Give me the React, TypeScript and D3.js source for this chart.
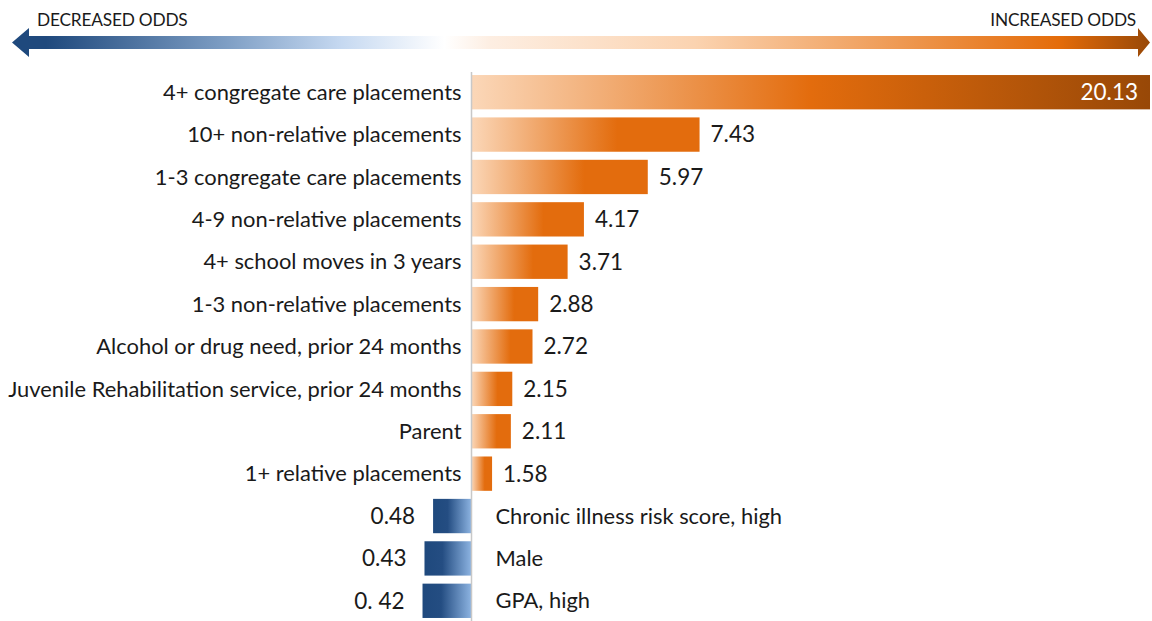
import React from "react";
import * as d3 from "d3";

const categories = [
  "4+ congregate care placements",
  "10+ non-relative placements",
  "1-3 congregate care placements",
  "4-9 non-relative placements",
  "4+ school moves in 3 years",
  "1-3 non-relative placements",
  "Alcohol or drug need, prior 24 months",
  "Juvenile Rehabilitation service, prior 24 months",
  "Parent",
  "1+ relative placements",
  "Chronic illness risk score, high",
  "Male",
  "GPA, high",
];
const oddsRatios = [20.13, 7.43, 5.97, 4.17, 3.71, 2.88, 2.72, 2.15, 2.11, 1.58, 0.48, 0.43, 0.42];
const valueLabels = ["20.13", "7.43", "5.97", "4.17", "3.71", "2.88", "2.72", "2.15", "2.11", "1.58", "0.48", "0.43", "0. 42"];
const arrowLabels = ["DECREASED ODDS", "INCREASED ODDS"];

const W = 1152;
const H = 621;
const FONT = "Lato, 'Open Sans', sans-serif";

// signed effect: OR-1 for increases, -(1/OR - 1) for decreases
const effect = (v: number) => (v >= 1 ? v - 1 : -(1 / v - 1));

export default function App() {
  const x = d3.scaleLinear().domain([0, effect(d3.max(oddsRatios) as number)]).range([471.5, 1150]);
  const y = d3
    .scaleBand<string>()
    .domain(categories)
    .range([71, 622])
    .paddingInner(0.19)
    .paddingOuter(0.095);
  const x0 = x(0);
  const bw = y.bandwidth();

  const ay = 42.5;
  const arrowPath = [
    [12, ay],
    [29, ay - 14.5],
    [29, ay - 6.5],
    [1138, ay - 6.5],
    [1138, ay - 14.5],
    [1150, ay],
    [1138, ay + 14.5],
    [1138, ay + 6.5],
    [29, ay + 6.5],
    [29, ay + 14.5],
  ];
  const line = d3.line();

  return (
    <svg
      width={W}
      height={H}
      style={{ position: "absolute", left: 0, top: 0, background: "#fff" }}
      fontFamily={FONT}
    >
      <defs>
        <linearGradient id="arrowGrad" gradientUnits="userSpaceOnUse" x1={12} x2={1150} y1={0} y2={0}>
          <stop offset="0" stopColor="#1f497d" />
          <stop offset="0.03" stopColor="#1f497d" />
          <stop offset="0.19" stopColor="#7f9fc5" />
          <stop offset="0.29" stopColor="#c6d9f1" />
          <stop offset="0.38" stopColor="#ffffff" />
          <stop offset="0.42" stopColor="#fdeee2" />
          <stop offset="0.6" stopColor="#fbd3b0" />
          <stop offset="0.92" stopColor="#e46c0a" />
          <stop offset="1" stopColor="#984807" />
        </linearGradient>
        <linearGradient id="orangeGrad" x1="0" x2="1" y1="0" y2="0">
          <stop offset="0" stopColor="#fbd7b8" />
          <stop offset="0.64" stopColor="#e36c0d" />
          <stop offset="1" stopColor="#e36c0d" />
        </linearGradient>
        <linearGradient id="topGrad" x1="0" x2="1" y1="0" y2="0">
          <stop offset="0" stopColor="#fbd7b8" />
          <stop offset="0.5" stopColor="#e36c0d" />
          <stop offset="1" stopColor="#984807" />
        </linearGradient>
        <linearGradient id="blueGrad" x1="0" x2="1" y1="0" y2="0">
          <stop offset="0" stopColor="#1f497d" />
          <stop offset="0.38" stopColor="#244d82" />
          <stop offset="1" stopColor="#8db4e2" />
        </linearGradient>
      </defs>

      <path d={line(arrowPath as [number, number][]) + "Z"} fill="url(#arrowGrad)" />
      <text x={37} y={25.5} fontSize={17.3} fill="#1a1a1a" letterSpacing={-0.2}>
        {arrowLabels[0]}
      </text>
      <text x={1136} y={25.5} fontSize={17.3} fill="#1a1a1a" textAnchor="end" letterSpacing={-0.2}>
        {arrowLabels[1]}
      </text>

      {categories.map((c, i) => {
        const v = oddsRatios[i];
        const e = effect(v);
        const yt = y(c) as number;
        const cy = yt + bw / 2;
        const xe = x(e);
        const inc = e >= 0;
        const isTop = i === 0;
        return (
          <g key={c}>
            <rect
              x={Math.min(x0, xe)}
              y={yt}
              width={Math.abs(xe - x0)}
              height={bw}
              fill={inc ? (isTop ? "url(#topGrad)" : "url(#orangeGrad)") : "url(#blueGrad)"}
            />
            {inc ? (
              <>
                <text x={x0 - 10} y={cy} dy="0.35em" textAnchor="end" fontSize={21.9} fill="#1a1a1a">
                  {c}
                </text>
                <text
                  x={isTop ? xe - 12 : xe + 11}
                  y={cy}
                  dy="0.35em"
                  textAnchor={isTop ? "end" : "start"}
                  fontSize={22.5}
                  fill={isTop ? "#ffffff" : "#1a1a1a"}
                >
                  {valueLabels[i]}
                </text>
              </>
            ) : (
              <>
                <text x={x0 + 24} y={cy} dy="0.35em" textAnchor="start" fontSize={21.9} fill="#1a1a1a">
                  {c}
                </text>
                <text x={xe - 18} y={cy} dy="0.35em" textAnchor="end" fontSize={22.5} fill="#1a1a1a">
                  {valueLabels[i]}
                </text>
              </>
            )}
          </g>
        );
      })}

      <line x1={x0} x2={x0} y1={72} y2={621} stroke="#c8c8c8" strokeWidth={1.5} />
    </svg>
  );
}
